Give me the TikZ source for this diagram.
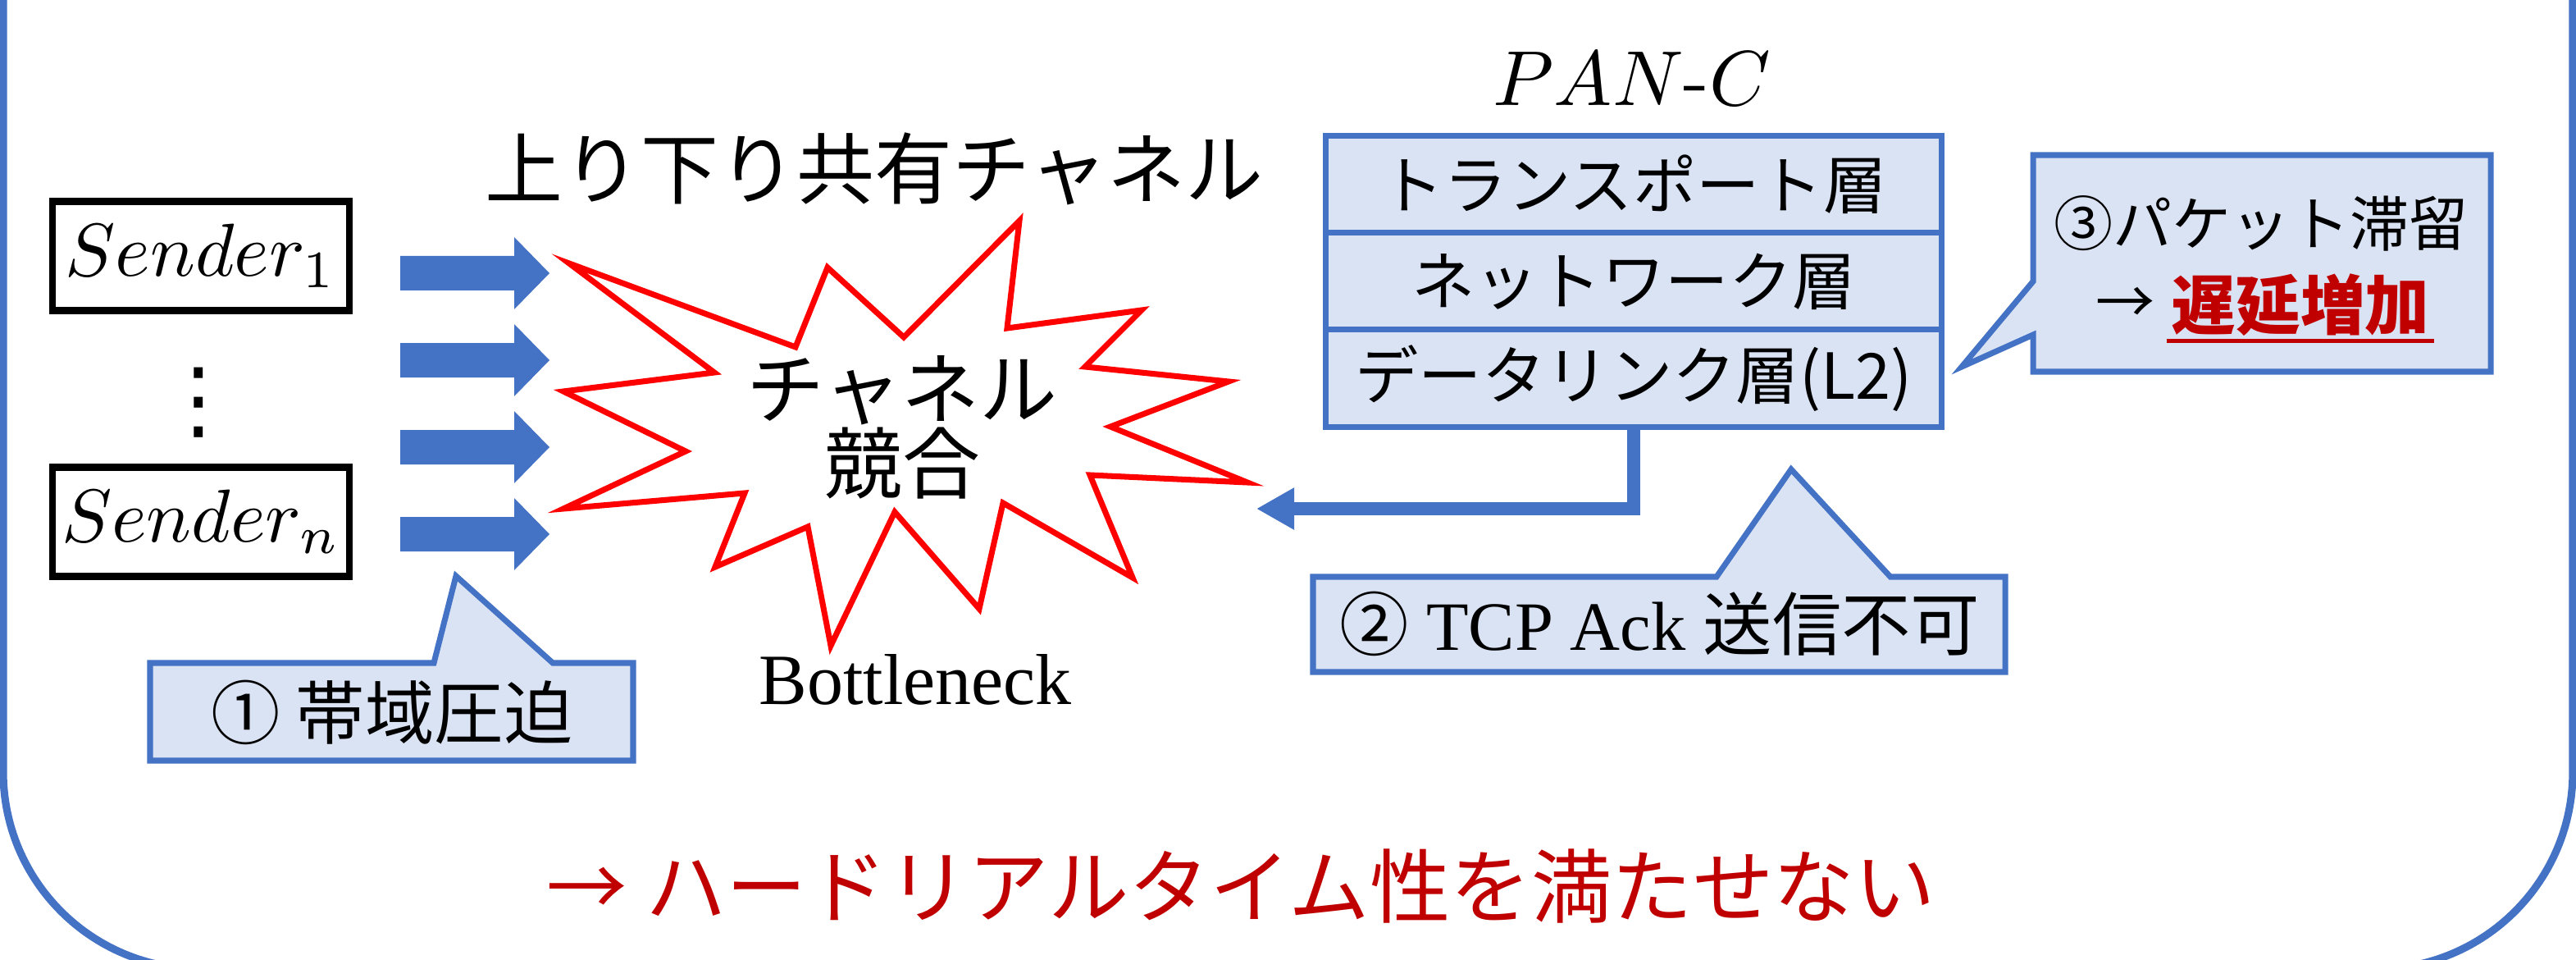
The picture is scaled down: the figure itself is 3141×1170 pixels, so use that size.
\documentclass[tikz,border=0pt]{standalone}
\usepackage[no-math]{fontspec}
\newfontfamily\jpfont{Noto Sans CJK JP}
\newfontfamily\lserif{Liberation Serif}
\newfontfamily\dejavu{DejaVu Sans}
\usetikzlibrary{arrows.meta}
\definecolor{accblue}{HTML}{4472C4}
\definecolor{lightfill}{HTML}{DAE3F3}
\definecolor{darkred}{HTML}{C00000}
\begin{document}
\begin{tikzpicture}[x=0.01cm,y=-0.01cm,
  senderbox/.style={draw=black, line width=2.4pt, minimum width=3.62cm, minimum height=1.33cm, inner sep=0pt},
  layer/.style={draw=accblue, fill=lightfill, line width=2pt, minimum width=7.50cm, minimum height=1.18cm, inner sep=0pt, font=\jpfont\fontsize{22}{24}\selectfont},
  callout/.style={draw=accblue, fill=lightfill, line width=2pt, line join=miter},
  blockarrow/.style={fill=accblue},
  burst/.style={draw=red, line width=2pt, line join=miter, fill=white},
  jptext/.style={font=\jpfont\fontsize{#1}{#1}\selectfont, inner sep=0pt}
]
\useasboundingbox (0,0) rectangle (3141,1170);
\begin{scope}
\clip (0,0) rectangle (3141,1170);
\draw[accblue, line width=2.6pt, rounded corners=2.4cm] (4,-400) rectangle (3137,1181);
\end{scope}

% title
\node[jptext=27] (title) at (1066,206) {上り下り共有チャネル};

% senders
\node[senderbox] (s1) at (245,312) {\scalebox{2.6}{$Sender_1$}};
\node[senderbox] (sn) at (245,636) {\scalebox{2.6}{$Sender_n$}};
\node[inner sep=0pt, font=\dejavu\fontsize{30}{30}\selectfont] (dots) at (242,491) {⋮};

% block arrows
\foreach \yy in {333,439,545,651}{
  \fill[blockarrow] (488,{\yy-21}) -- (627,{\yy-21}) -- (627,{\yy-44}) -- (670,\yy) -- (627,{\yy+44}) -- (627,{\yy+21}) -- (488,{\yy+21}) -- cycle;
}

% starburst
\draw[burst] (694,321) -- (871,454) -- (687,477) -- (836,550) -- (687,620) -- (908,601) -- (872,691) -- (985,642) -- (1013,787) -- (1091,624) -- (1194,742) -- (1223,613) -- (1381,704) -- (1329,579) -- (1521,588) -- (1354,520) -- (1498,465) -- (1323,447) -- (1392,378) -- (1228,400) -- (1243,269) -- (1102,411) -- (1009,326) -- (970,423) -- cycle;
\coordinate (burstc) at (1100,521);
\node[align=center, inner sep=0pt, font=\jpfont\fontsize{27}{25.9}\selectfont] (bursttext) at (burstc) {チャネル\\競合};
\node[font=\lserif\fontsize{25}{28}\selectfont, inner sep=0pt] (bn) at (1116,828) {Bottleneck};

% PAN-C stack
\node[inner sep=0pt] (panc) at (1990,96) {\scalebox{2.7}{$PAN\mbox{-}C$}};
\node[layer] (l1) at (1992,225) {トランスポート層};
\node[layer] (l2) at (1992,343) {ネットワーク層};
\node[layer] (l3) at (1992,461) {データリンク層(L2)};

\coordinate (ackend) at (1532,620);
\draw[accblue, line width=4.3pt, line join=miter, -{Triangle[length=0.46cm, width=0.48cm]}] (l3.south) |- (ackend);

% callout 1
\draw[callout] (183,808) -- (529,808) -- (556,702) -- (674,808) -- (772,808) -- (772,927) -- (183,927) -- cycle;
\node[jptext=24] (c1) at (478,868) {① 帯域圧迫};

% callout 2
\draw[callout] (1601,703) -- (2093,703) -- (2184,572) -- (2305,703) -- (2445,703) -- (2445,819) -- (1601,819) -- cycle;
\node[inner sep=0pt, font=\lserif\fontsize{24}{28}\selectfont] (c2) at (2024,760) {{\jpfont ②} TCP Ack {\jpfont 送信不可}};

% callout 3
\draw[callout] (2479,189) -- (3037,189) -- (3037,453) -- (2479,453) -- (2479,408) -- (2392,447) -- (2479,343) -- cycle;
\node[jptext=20.5] (c3a) at (2757,272) {③パケット滞留};
\node[jptext=20.5] (c3arrow) at (2592,372) {→};
\node[jptext=22.4, text=darkred, font=\jpfont\bfseries\fontsize{22.4}{24}\selectfont] (c3red) at (2805,372) {遅延増加};
\draw[darkred, line width=1.2pt] ([xshift=-0.05cm,yshift=-0.05cm]c3red.south west) -- ([xshift=0.05cm,yshift=-0.05cm]c3red.south east);

% conclusion
\node[jptext=28, text=darkred] (concl) at (1513,1080) {→ ハードリアルタイム性を満たせない};
\end{tikzpicture}
\end{document}
